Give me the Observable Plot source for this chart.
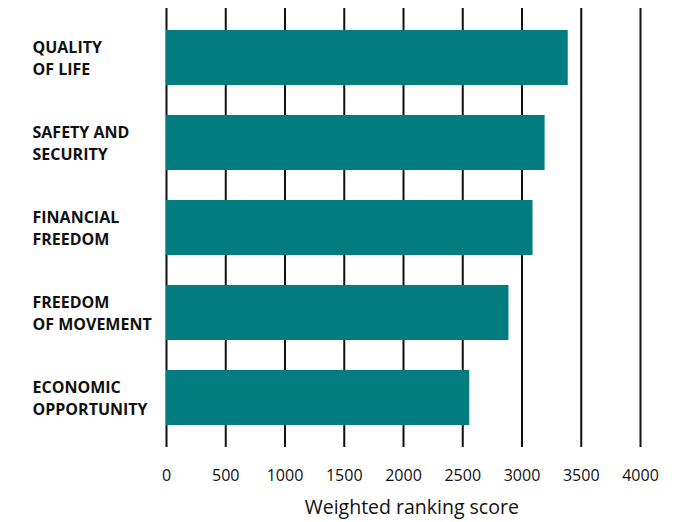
<!DOCTYPE html>
<html>
<head>
<meta charset="utf-8">
<script src="https://cdn.jsdelivr.net/npm/d3@7"></script>
<script src="https://cdn.jsdelivr.net/npm/@observablehq/plot@0.6"></script>
<style>
  html, body { margin: 0; padding: 0; background: #fff; }
  #chart svg { display: block; }
</style>
</head>
<body>
<div id="chart"></div>
<script>
const categories = ["QUALITY\nOF LIFE", "SAFETY AND\nSECURITY", "FINANCIAL\nFREEDOM", "FREEDOM\nOF MOVEMENT", "ECONOMIC\nOPPORTUNITY"];
const scores = [3390, 3195, 3093, 2890, 2559];
const tickValues = [0, 500, 1000, 1500, 2000, 2500, 3000, 3500, 4000];
const axisTitle = "Weighted ranking score";

const data = categories.map((c, i) => ({category: c, score: scores[i]}));

const chart = Plot.plot({
  width: 687,
  height: 522,
  marginLeft: 166,
  marginRight: 47,
  marginTop: 8,
  marginBottom: 75,
  style: {fontFamily: "'Open Sans', sans-serif", background: "#fff"},
  x: {domain: [0, 4000], axis: null},
  y: {domain: categories, padding: 0.35, paddingOuter: 0.25, axis: null},
  marks: [
    Plot.ruleX(tickValues, {stroke: "#111", strokeWidth: 2}),
    Plot.barX(data, {x: "score", y: "category", fill: "#037c80"}),
    Plot.text(data, {
      y: "category", text: "category", frameAnchor: "left", textAnchor: "start",
      dx: -134, dy: -1, fontSize: 16, fontWeight: "bold", lineHeight: 1.37, fill: "#111",
      letterSpacing: "0.2px"
    }),
    Plot.axisX(tickValues, {
      tickSize: 0, tickPadding: 22, fontSize: 16, label: null, fill: "#111",
      tickFormat: d => String(d)
    }),
    Plot.text([axisTitle], {
      x: 2070, frameAnchor: "bottom", dy: 66, text: d => d, fontSize: 19.5, fill: "#111", fontWeight: 500
    })
  ]
});
document.getElementById("chart").appendChild(chart);
</script>
</body>
</html>
